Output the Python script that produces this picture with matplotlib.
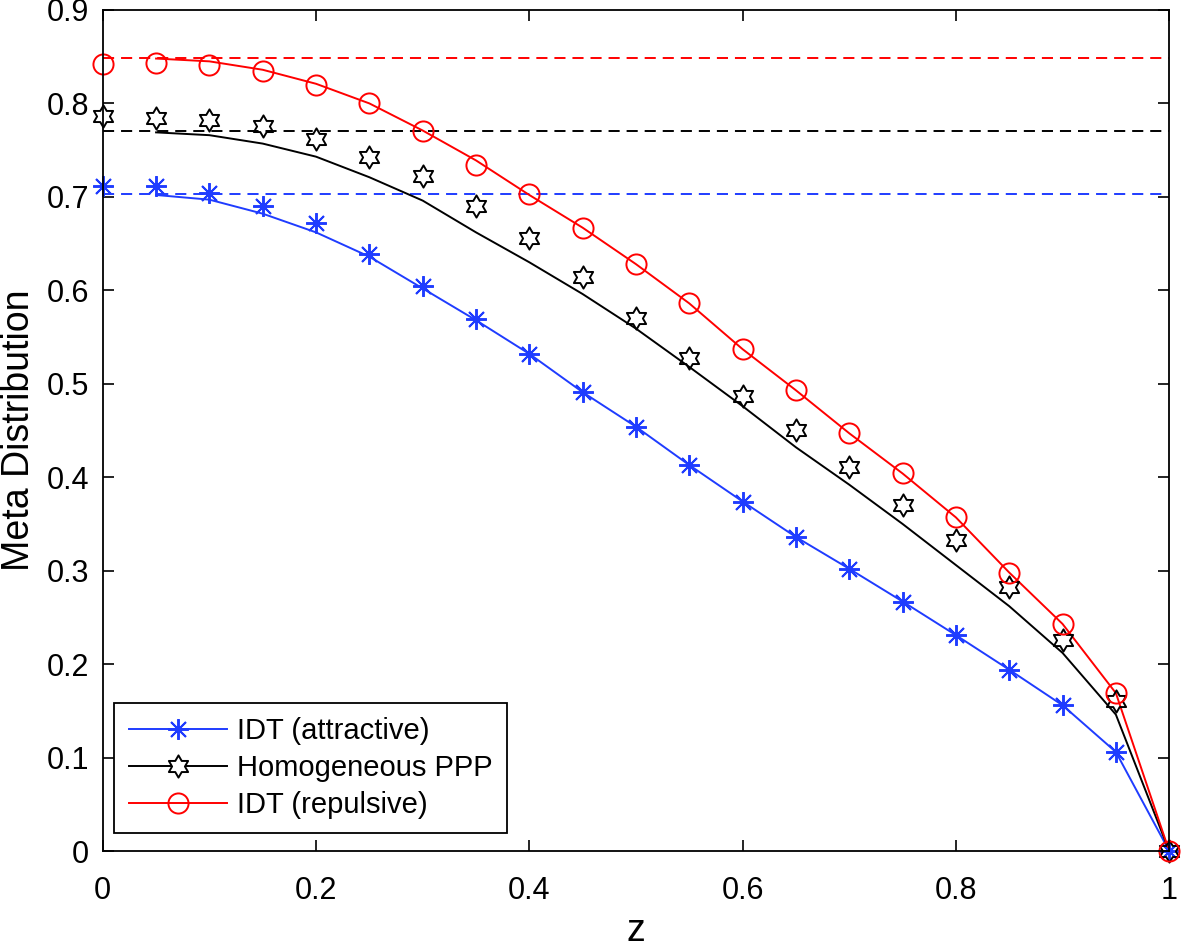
import numpy
import matplotlib
matplotlib.use("Agg")
import matplotlib.pyplot
from matplotlib.path import Path
from matplotlib.lines import Line2D

matplotlib.pyplot.rcParams['font.family'] = ['Liberation Sans', 'DejaVu Sans']
matplotlib.pyplot.rcParams['lines.scale_dashes'] = False

# analysis curves (start at z = 0.05)
z_line = [0.05, 0.10, 0.15, 0.20, 0.25, 0.30, 0.35, 0.40, 0.45, 0.50,
          0.55, 0.60, 0.65, 0.70, 0.75, 0.80, 0.85, 0.90, 0.95, 1.00]
attractive_line = [0.702, 0.697, 0.682, 0.662, 0.636, 0.602, 0.568, 0.532, 0.491, 0.454,
                   0.413, 0.374, 0.336, 0.302, 0.267, 0.231, 0.194, 0.156, 0.106, 0.0]
ppp_line = [0.769, 0.766, 0.757, 0.743, 0.721, 0.696, 0.662, 0.630, 0.596, 0.559,
            0.518, 0.476, 0.432, 0.392, 0.350, 0.306, 0.262, 0.212, 0.146, 0.0]
repulsive_line = [0.848, 0.845, 0.836, 0.821, 0.800, 0.771, 0.739, 0.702, 0.667, 0.628,
                  0.586, 0.537, 0.493, 0.447, 0.404, 0.357, 0.298, 0.243, 0.169, 0.0]

# simulation points (start at z = 0)
z_sim = [0.00, 0.05, 0.10, 0.15, 0.20, 0.25, 0.30, 0.35, 0.40, 0.45, 0.50,
         0.55, 0.60, 0.65, 0.70, 0.75, 0.80, 0.85, 0.90, 0.95, 1.00]
attractive_sim = [0.712, 0.712, 0.704, 0.690, 0.672, 0.639, 0.605, 0.569, 0.532, 0.491, 0.454,
                  0.413, 0.374, 0.336, 0.302, 0.267, 0.231, 0.194, 0.156, 0.106, 0.0]
ppp_sim = [0.786, 0.784, 0.782, 0.776, 0.762, 0.743, 0.722, 0.690, 0.656, 0.614, 0.570,
           0.528, 0.487, 0.450, 0.411, 0.370, 0.333, 0.283, 0.226, 0.160, 0.0]
repulsive_sim = [0.842, 0.843, 0.841, 0.835, 0.820, 0.800, 0.771, 0.734, 0.703, 0.667, 0.628,
                 0.586, 0.537, 0.493, 0.447, 0.404, 0.357, 0.298, 0.243, 0.169, 0.0]

# limits (dashed)
attractive_limit = 0.703
ppp_limit = 0.770
repulsive_limit = 0.849

labels = ['IDT (attractive)', 'Homogeneous PPP', 'IDT (repulsive)']

blue = '#1f3cff'
red = '#ff0000'
black = '#000000'

# MATLAB-like hexagram marker
angles = numpy.deg2rad(90 + numpy.arange(12) * 30)
radii = numpy.where(numpy.arange(12) % 2 == 0, 1.0, 1 / numpy.sqrt(3))
verts = numpy.column_stack([radii * numpy.cos(angles), radii * numpy.sin(angles)])
verts = numpy.vstack([verts, verts[0]])
hexagram = Path(verts, [Path.MOVETO] + [Path.LINETO] * 11 + [Path.CLOSEPOLY])

figure = matplotlib.pyplot.figure(figsize=(11.81, 9.48), dpi=100)
ax = figure.add_axes([0.087, 0.1023, 0.903, 0.8872])

lw = 1.4
dash = (0, (8, 5))
ax.plot([0, 1], [attractive_limit] * 2, color=blue, lw=lw, linestyle=dash)
ax.plot([0, 1], [ppp_limit] * 2, color=black, lw=lw, linestyle=dash)
ax.plot([0, 1], [repulsive_limit] * 2, color=red, lw=lw, linestyle=dash)

ax.plot(z_line, attractive_line, color=blue, lw=lw)
ax.plot(z_line, ppp_line, color=black, lw=lw)
ax.plot(z_line, repulsive_line, color=red, lw=lw)

ax.plot(z_sim, attractive_sim, linestyle='none', marker=(8, 2, 0), markersize=15,
        markeredgecolor=blue, markeredgewidth=lw, clip_on=False)
ax.plot(z_sim, ppp_sim, linestyle='none', marker=hexagram, markersize=16,
        markerfacecolor='none', markeredgecolor=black, markeredgewidth=lw, clip_on=False)
ax.plot(z_sim, repulsive_sim, linestyle='none', marker='o', markersize=14.5,
        markerfacecolor='none', markeredgecolor=red, markeredgewidth=lw, clip_on=False)

handles = [
    Line2D([], [], color=blue, lw=lw, marker=(8, 2, 0), markersize=15, markeredgewidth=lw),
    Line2D([], [], color=black, lw=lw, marker=hexagram, markersize=16,
           markerfacecolor='white', markeredgewidth=lw),
    Line2D([], [], color=red, lw=lw, marker='o', markersize=14.5,
           markerfacecolor='none', markeredgewidth=lw),
]
legend = ax.legend(handles, labels, loc='lower left', bbox_to_anchor=(0.011, 0.021),
                   borderaxespad=0, fontsize=21, handlelength=3.36, handletextpad=0.35,
                   labelspacing=0.3, borderpad=0.5, fancybox=False, framealpha=1,
                   edgecolor='black')
legend.get_frame().set_linewidth(1.3)

ax.set_xlim(0, 1)
ax.set_ylim(0, 0.9)
ax.set_xticks(numpy.arange(0, 1.01, 0.2))
ax.set_xticklabels(['0', '0.2', '0.4', '0.6', '0.8', '1'])
ax.set_yticks(numpy.arange(0, 0.91, 0.1))
ax.set_yticklabels(['0', '0.1', '0.2', '0.3', '0.4', '0.5', '0.6', '0.7', '0.8', '0.9'])
ax.tick_params(direction='in', length=8, width=1.2, labelsize=22, top=True, right=True)
ax.tick_params(axis='x', pad=18)
ax.tick_params(axis='y', pad=10)
for spine in ax.spines.values():
    spine.set_linewidth(1.3)

ax.set_xlabel('z', fontsize=27, labelpad=5)
ax.set_ylabel('Meta Distribution', fontsize=27, labelpad=7)

matplotlib.pyplot.savefig('out.png', dpi=100)
matplotlib.pyplot.close()
